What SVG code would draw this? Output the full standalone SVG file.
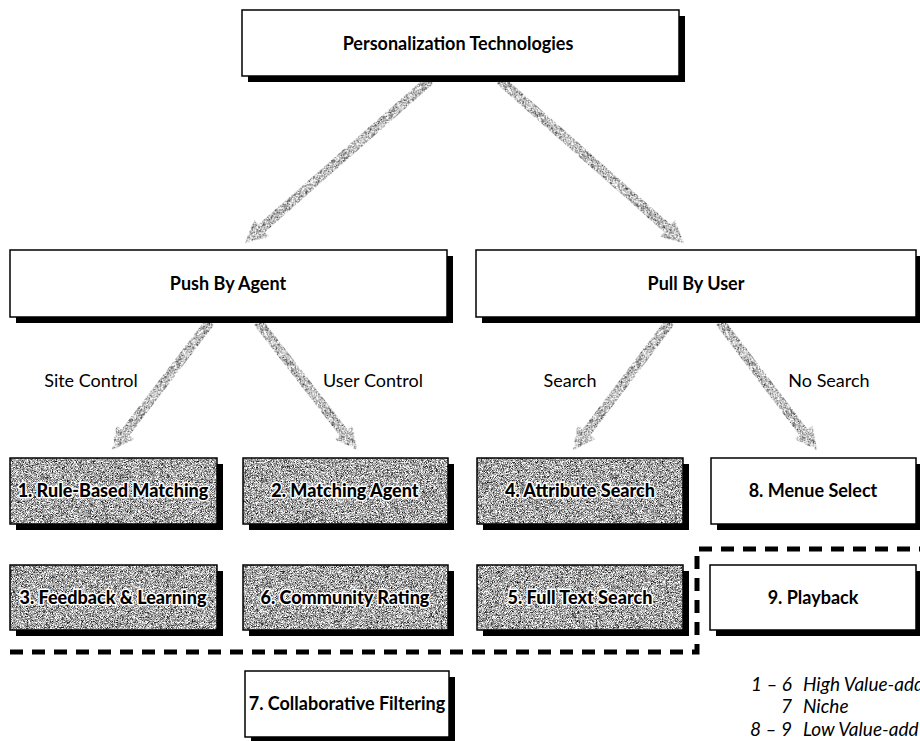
<svg xmlns="http://www.w3.org/2000/svg" width="920" height="741" viewBox="0 0 920 741">
<defs>
<filter id="grain" x="0" y="0" width="1" height="1" color-interpolation-filters="sRGB">
<feTurbulence type="fractalNoise" baseFrequency="1.8" numOctaves="1" seed="7" result="n"/>
<feColorMatrix in="n" type="matrix" values="2.2 0 0 0 -0.45  2.2 0 0 0 -0.45  2.2 0 0 0 -0.45  0 0 0 0 1" result="g"/>
<feComposite in="g" in2="SourceGraphic" operator="in"/>
</filter>
<filter id="grainLight" x="0" y="0" width="1" height="1" color-interpolation-filters="sRGB">
<feTurbulence type="fractalNoise" baseFrequency="1.8" numOctaves="1" seed="3" result="n"/>
<feColorMatrix in="n" type="matrix" values="2.2 0 0 0 -0.35  2.2 0 0 0 -0.35  2.2 0 0 0 -0.35  0 0 0 0 1" result="g"/>
<feComposite in="g" in2="SourceGraphic" operator="in"/>
</filter>
<style>
.shadow{fill:#000}
.box{fill:#fff;stroke:#000;stroke-width:1.5}
.gbox{fill:#000;filter:url(#grain)}
.gedge{fill:none;stroke:#000;stroke-width:1.5}
.t{font-family:Lato,"Liberation Sans",sans-serif;font-weight:bold;font-size:18px;text-anchor:middle;fill:#000}
.tg{font-family:Lato,"Liberation Sans",sans-serif;font-weight:900;font-size:18px;text-anchor:middle;fill:#000;stroke:#fff;stroke-width:3;paint-order:stroke;stroke-linejoin:round}
.lbl{font-family:Lato,"Liberation Sans",sans-serif;font-size:18px;text-anchor:middle;fill:#000}
.leg{font-family:Lato,"Liberation Sans",sans-serif;font-style:italic;font-size:19px;fill:#000}
.num{text-anchor:end}
.arr{fill:#000;filter:url(#grainLight)}
.dash{fill:none;stroke:#000;stroke-width:5;stroke-dasharray:13 9}
</style>
</defs>
<rect width="920" height="741" fill="#fff"/>

<g id="connectors">
<path class="arr" transform="translate(430,80) rotate(138.62)" d="M0,-5 H224.6 V-11 L246.6,0 L224.6,11 V5 H0 Z"/>
<path class="arr" transform="translate(500,80) rotate(41.54)" d="M0,-5 H223.8 V-11 L245.8,0 L223.8,11 V5 H0 Z"/>
<path class="arr" transform="translate(210,322) rotate(127.44)" d="M0,-5 H139.2 V-11 L161.2,0 L139.2,11 V5 H0 Z"/>
<path class="arr" transform="translate(258,322) rotate(52.28)" d="M0,-5 H139.8 V-11 L161.8,0 L139.8,11 V5 H0 Z"/>
<path class="arr" transform="translate(670,322) rotate(127.15)" d="M0,-5 H138.6 V-11 L160.6,0 L138.6,11 V5 H0 Z"/>
<path class="arr" transform="translate(720,322) rotate(52.85)" d="M0,-5 H138.6 V-11 L160.6,0 L138.6,11 V5 H0 Z"/>
<text class="lbl" x="91" y="387">Site Control</text>
<text class="lbl" x="373" y="387">User Control</text>
<text class="lbl" x="570" y="387">Search</text>
<text class="lbl" x="829" y="387">No Search</text>
</g>

<g id="node-root">
<rect class="shadow" x="248" y="16" width="437" height="66"/>
<rect class="box" x="242" y="10" width="437" height="66"/>
<text class="t" x="458" y="50">Personalization Technologies</text>
</g>

<g id="node-push">
<rect class="shadow" x="16" y="256" width="437" height="67"/>
<rect class="box" x="10" y="250" width="437" height="67"/>
<text class="t" x="228" y="290">Push By Agent</text>
</g>

<g id="node-pull">
<rect class="shadow" x="482" y="256" width="440" height="67"/>
<rect class="box" x="476" y="250" width="440" height="67"/>
<text class="t" x="696" y="290">Pull By User</text>
</g>

<g id="node-1">
<rect class="shadow" x="16" y="464" width="207" height="66"/>
<rect class="gbox" x="10" y="458" width="207" height="66"/>
<rect class="gedge" x="10" y="458" width="207" height="66"/>
<text class="tg" x="113" y="497">1. Rule-Based Matching</text>
</g>

<g id="node-2">
<rect class="shadow" x="249" y="464" width="205" height="66"/>
<rect class="gbox" x="243" y="458" width="205" height="66"/>
<rect class="gedge" x="243" y="458" width="205" height="66"/>
<text class="tg" x="345" y="497">2. Matching Agent</text>
</g>

<g id="node-4">
<rect class="shadow" x="483" y="464" width="206" height="66"/>
<rect class="gbox" x="477" y="458" width="206" height="66"/>
<rect class="gedge" x="477" y="458" width="206" height="66"/>
<text class="tg" x="580" y="497">4. Attribute Search</text>
</g>

<g id="node-8">
<rect class="shadow" x="717" y="464" width="205" height="66"/>
<rect class="box" x="711" y="458" width="205" height="66"/>
<text class="t" x="813" y="497">8. Menue Select</text>
</g>

<g id="node-3">
<rect class="shadow" x="16" y="571" width="207" height="65"/>
<rect class="gbox" x="10" y="565" width="207" height="65"/>
<rect class="gedge" x="10" y="565" width="207" height="65"/>
<text class="tg" x="113" y="604">3. Feedback &amp; Learning</text>
</g>

<g id="node-6">
<rect class="shadow" x="249" y="571" width="205" height="65"/>
<rect class="gbox" x="243" y="565" width="205" height="65"/>
<rect class="gedge" x="243" y="565" width="205" height="65"/>
<text class="tg" x="345" y="604">6. Community Rating</text>
</g>

<g id="node-5">
<rect class="shadow" x="483" y="571" width="206" height="65"/>
<rect class="gbox" x="477" y="565" width="206" height="65"/>
<rect class="gedge" x="477" y="565" width="206" height="65"/>
<text class="tg" x="580" y="604">5. Full Text Search</text>
</g>

<g id="node-9">
<rect class="shadow" x="716" y="571" width="206" height="65"/>
<rect class="box" x="710" y="565" width="206" height="65"/>
<text class="t" x="813" y="604">9. Playback</text>
</g>

<g id="boundary">
<path class="dash" d="M10,652 H697 V549 H920"/>
</g>

<g id="node-7">
<rect class="shadow" x="251" y="677" width="204" height="66"/>
<rect class="box" x="245" y="671" width="204" height="66"/>
<text class="t" x="347" y="710">7. Collaborative Filtering</text>
</g>

<g id="legend">
<text class="leg num" x="792" y="691">1 – 6</text>
<text class="leg" x="803" y="691">High Value-add</text>
<text class="leg num" x="792" y="713">7</text>
<text class="leg" x="803" y="713">Niche</text>
<text class="leg num" x="792" y="736">8 – 9</text>
<text class="leg" x="803" y="736">Low Value-add</text>
</g>
</svg>
